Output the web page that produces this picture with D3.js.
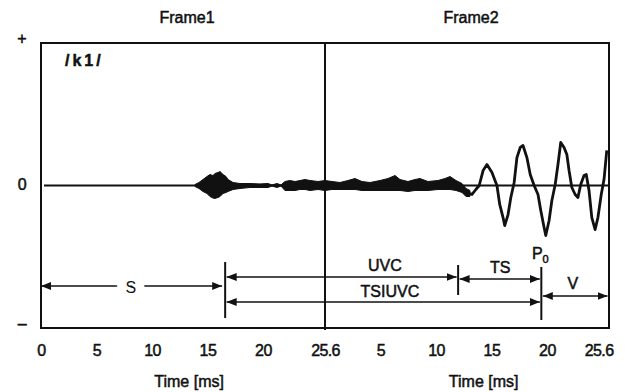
<!DOCTYPE html>
<html lang="en">
<head>
<meta charset="UTF-8">
<title>/k1/ waveform</title>
<script src="https://d3js.org/d3.v7.min.js"></script>
<style>
    body { margin: 0; background: #fff; }
    svg { display: block; font-family: "Liberation Sans", Arial, sans-serif; }
    text { fill: #111; stroke: #111; stroke-width: 0.5px; }
    .lbl { font-size: 16px; }
    .tick text { font-size: 16px; letter-spacing: -0.6px; }
</style>
</head>
<body>
<script>
// ---- values ----
// time runs on one axis: 0-25.6 ms is Frame1, 25.6-51.2 ms is Frame2
const frames = ["Frame1", "Frame2"];
const frameLength = 25.6;
const tickTimes = [0, 5, 10, 15, 20, 25.6, 30.6, 35.6, 40.6, 45.6, 51.2];
const tickLabels = ["0", "5", "10", "15", "20", "25.6", "5", "10", "15", "20", "25.6"];
const ampTicks = [1, 0, -1];
const ampLabels = ["+", "0", "–"];

// burst + noise: upper / lower envelope of the trace
const noiseT  = [13.88, 14.24, 14.6, 14.96, 15.23, 15.5, 15.68, 15.95, 16.14, 16.41,
                 16.68, 16.86, 17.31, 17.94, 18.84, 19.74, 20.46, 20.82, 21.27, 21.63,
                 21.99, 22.44, 22.9, 23.35, 23.8, 24.25, 24.97, 25.6, 26.23, 26.95,
                 27.67, 28.3, 28.93, 29.66, 30.56, 31.28, 31.91, 32.36, 33.08, 33.71,
                 34.16, 34.88, 35.79, 36.42, 36.87, 37.41, 37.95, 38.31, 38.67];
const noiseHi = [0.007, 0.021, 0.042, 0.063, 0.077, 0.07, 0.084, 0.091, 0.098, 0.077,
                 0.063, 0.042, 0.021, 0.014, 0.014, 0.011, 0.014, 0.004, 0.014, 0.004,
                 0.028, 0.035, 0.028, 0.035, 0.042, 0.035, 0.028, 0.035, 0.028, 0.021,
                 0.035, 0.049, 0.028, 0.021, 0.035, 0.049, 0.07, 0.042, 0.028, 0.042,
                 0.049, 0.028, 0.035, 0.049, 0.063, 0.035, 0.014, -0.021, -0.035];
const noiseLo = [-0.007, -0.021, -0.042, -0.056, -0.077, -0.088, -0.091, -0.084, -0.077, -0.056,
                 -0.049, -0.042, -0.028, -0.021, -0.014, -0.014, -0.014, -0.004, -0.014, -0.004,
                 -0.035, -0.035, -0.035, -0.028, -0.028, -0.035, -0.028, -0.035, -0.028, -0.028,
                 -0.028, -0.028, -0.035, -0.035, -0.035, -0.035, -0.035, -0.035, -0.042, -0.035,
                 -0.035, -0.035, -0.028, -0.028, -0.028, -0.035, -0.049, -0.077, -0.077];

// voiced part of the trace
const waveT = [38.65, 38.85, 39.2, 39.5, 39.85, 40.2, 40.65, 41.1, 41.35, 41.65,
               41.8, 42.1, 42.35, 42.65, 42.9, 43.2, 43.45, 43.8, 44.1, 44.45,
               44.8, 45.05, 45.35, 45.5, 45.8, 46.05, 46.35, 46.6, 46.85, 47.15,
               47.4, 47.6, 47.85, 48.15, 48.4, 48.65, 48.95, 49.15, 49.4, 49.65,
               49.95, 50.2, 50.5, 50.75, 51.0];
const waveA = [-0.056, -0.063, -0.028, 0, 0.105, 0.147, 0.091, 0, -0.133, -0.225,
               -0.281, -0.204, -0.084, 0.021, 0.196, 0.267, 0.281, 0.196, 0.077, 0,
               -0.063, -0.175, -0.295, -0.351, -0.246, -0.105, 0.007, 0.147, 0.302, 0.267,
               0.218, 0.105, -0.014, -0.063, -0.084, 0.007, 0.07, 0.077, -0.035, -0.225,
               -0.309, -0.225, -0.063, 0.042, 0.246];

// segments (ms on the joined axis)
const segNames = ["S", "UVC", "TS", "TSIUVC", "V"];
const segStart = [0, 16.6, 37.6, 16.6, 45.1];
const segEnd   = [16.6, 37.6, 45.1, 45.1, 51.2];
const markTimes = [16.6, 37.6, 45.1];
const p0Time = 45.1;

// ---- layout ----
const width = 626, height = 392;
const box = { left: 41, right: 609, top: 43, bottom: 328 };
const rowY = { S: 286, UVC: 277, TS: 279, TSIUVC: 302, V: 296 };
const labelAt = { S: [8.1, 287], UVC: [31.0, 265], TS: [41.4, 267], TSIUVC: [31.45, 291], V: [47.95, 283] };
const markY = [[262, 318], [265, 295], [267, 320]];

const svg = d3.select("body").append("svg")
    .attr("width", width)
    .attr("height", height);

const x = d3.scaleLinear().domain([0, 2 * frameLength]).range([box.left, box.right]);
const y = d3.scaleLinear().domain([-1, 1]).range([box.bottom, box.top]);

// arrow head
svg.append("defs").append("marker")
    .attr("id", "head")
    .attr("viewBox", "0 0 10 8")
    .attr("refX", 10).attr("refY", 4)
    .attr("markerWidth", 10).attr("markerHeight", 8)
    .attr("markerUnits", "userSpaceOnUse")
    .attr("orient", "auto-start-reverse")
    .append("path")
    .attr("d", "M0,0L10,4L0,8Z")
    .attr("fill", "#111");

// frame titles
svg.selectAll(".frame")
    .data(frames)
    .enter()
    .append("text")
    .attr("class", "lbl")
    .attr("x", (d, i) => x(frameLength * i + frameLength / 2) + 4)
    .attr("y", 23)
    .attr("text-anchor", "middle")
    .text(d => d);

// bottom axis
const xAxis = d3.axisBottom(x)
    .tickValues(tickTimes)
    .tickFormat((d, i) => tickLabels[i])
    .tickSize(0)
    .tickPadding(17);

const gx = svg.append("g")
    .attr("transform", `translate(0,${box.bottom})`)
    .call(xAxis);
gx.select(".domain").remove();
gx.selectAll(".tick text").attr("font-size", 16)
    .filter((d, i) => i === tickTimes.length - 1)
    .attr("text-anchor", "end")
    .attr("dx", 4);

// left labels + 0 -
const yAxis = d3.axisLeft(y)
    .tickValues(ampTicks)
    .tickFormat((d, i) => ampLabels[i])
    .tickSize(0)
    .tickPadding(15);

const gy = svg.append("g")
    .attr("transform", `translate(${box.left},0)`)
    .call(yAxis);
gy.select(".domain").remove();
gy.selectAll(".tick text")
    .attr("font-size", 16)
    .attr("y", d => d === 0 ? -1.5 : -5);

// axis titles
svg.selectAll(".xtitle")
    .data([13.35, 39.9])
    .enter()
    .append("text")
    .attr("class", "lbl")
    .attr("x", d => x(d))
    .attr("y", 387)
    .attr("text-anchor", "middle")
    .text("Time [ms]");

// plot box and frame divider
svg.append("rect")
    .attr("x", box.left).attr("y", box.top)
    .attr("width", box.right - box.left)
    .attr("height", box.bottom - box.top)
    .attr("fill", "none")
    .attr("stroke", "#111")
    .attr("stroke-width", 2);

svg.append("line")
    .attr("x1", x(frameLength)).attr("x2", x(frameLength))
    .attr("y1", box.top).attr("y2", box.bottom + 2)
    .attr("stroke", "#111")
    .attr("stroke-width", 2);

svg.append("text")
    .attr("x", 65).attr("y", 66)
    .attr("font-size", 16)
    .attr("font-weight", "bold")
    .attr("letter-spacing", 3)
    .text("/k1/");

// zero line
svg.append("line")
    .attr("x1", x(0) + 3).attr("x2", x(2 * frameLength))
    .attr("y1", y(0)).attr("y2", y(0))
    .attr("stroke", "#111")
    .attr("stroke-width", 2);

// burst / noise band
const noise = noiseT.map((t, i) => ({ t: t, hi: noiseHi[i], lo: noiseLo[i] }));
svg.append("path")
    .datum(noise)
    .attr("d", d3.area().x(d => x(d.t)).y0(d => y(d.lo)).y1(d => y(d.hi)))
    .attr("fill", "#111")
    .attr("stroke", "#111")
    .attr("stroke-width", 1);

// voiced trace
const wave = waveT.map((t, i) => ({ t: t, a: waveA[i] }));
svg.append("path")
    .datum(wave)
    .attr("d", d3.line().x(d => x(d.t)).y(d => y(d.a)))
    .attr("fill", "none")
    .attr("stroke", "#111")
    .attr("stroke-width", 2.8)
    .attr("stroke-linejoin", "round");

// segment boundaries
svg.selectAll(".mark")
    .data(markTimes)
    .enter()
    .append("line")
    .attr("x1", d => x(d)).attr("x2", d => x(d))
    .attr("y1", (d, i) => markY[i][0])
    .attr("y2", (d, i) => markY[i][1])
    .attr("stroke", "#111")
    .attr("stroke-width", 2);

// double arrows
svg.selectAll(".seg")
    .data(segNames)
    .enter()
    .append("line")
    .attr("x1", (d, i) => x(segStart[i]) + (i === 0 ? 0 : 1.5))
    .attr("x2", (d, i) => x(segEnd[i]) - (i === 0 ? 3 : 1.5))
    .attr("y1", d => rowY[d])
    .attr("y2", d => rowY[d])
    .attr("stroke", "#111")
    .attr("stroke-width", 1.5)
    .attr("marker-start", "url(#head)")
    .attr("marker-end", "url(#head)");

svg.selectAll(".segtext")
    .data(segNames)
    .enter()
    .append("text")
    .attr("class", "lbl")
    .attr("x", d => x(labelAt[d][0]))
    .attr("y", d => labelAt[d][1])
    .attr("dy", "0.35em")
    .attr("text-anchor", "middle")
    .style("paint-order", "stroke")
    .style("stroke", d => d === "S" ? "#fff" : "#111")
    .style("stroke-width", d => d === "S" ? "16px" : "0.5px")
    .text(d => d);

// P0 label
const p0 = svg.append("text")
    .attr("class", "lbl")
    .attr("x", x(p0Time) - 1)
    .attr("y", 253)
    .attr("dy", "0.35em")
    .attr("text-anchor", "middle");
p0.append("tspan").text("P");
p0.append("tspan").attr("font-size", 11).attr("dy", 4).text("0");
</script>
</body>
</html>
